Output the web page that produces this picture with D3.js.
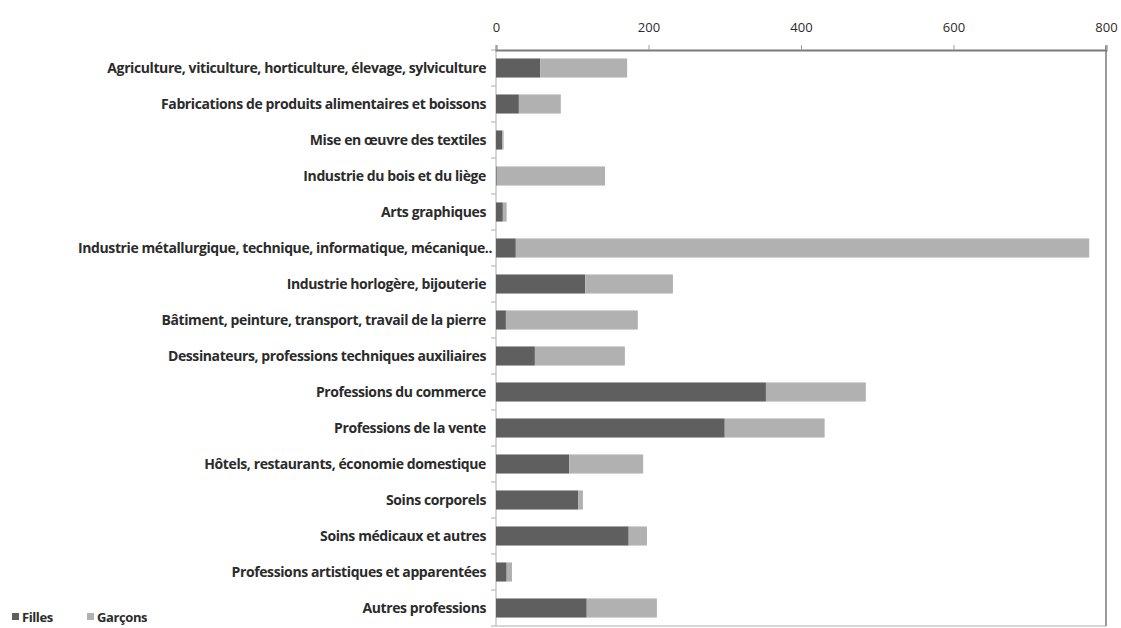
<!DOCTYPE html>
<html><head><meta charset="utf-8">
<script src="https://cdn.jsdelivr.net/npm/d3@7"></script>
<style>
body{margin:0;background:#fff;}
svg text{font-family:"Open Sans",sans-serif;fill:#2b2b2b;}
</style></head>
<body>
<svg id="chart" width="1121" height="628"></svg>
<script>
const categories = [
  "Agriculture, viticulture, horticulture, élevage, sylviculture",
  "Fabrications de produits alimentaires et boissons",
  "Mise en œuvre des textiles",
  "Industrie du bois et du liège",
  "Arts graphiques",
  "Industrie métallurgique, technique, informatique, mécanique..",
  "Industrie horlogère, bijouterie",
  "Bâtiment, peinture, transport, travail de la pierre",
  "Dessinateurs, professions techniques auxiliaires",
  "Professions du commerce",
  "Professions de la vente",
  "Hôtels, restaurants, économie domestique",
  "Soins corporels",
  "Soins médicaux et autres",
  "Professions artistiques et apparentées",
  "Autres professions"
];
const filles  = [58, 30, 8, 1, 9, 26, 117, 13, 51, 354, 300, 96, 108, 174, 14, 119];
const garcons = [114, 55, 2, 142, 5, 752, 115, 173, 118, 131, 131, 97, 6, 24, 7, 92];
const seriesNames = ["Filles", "Garçons"];
const xTicks = [0, 200, 400, 600, 800];
const colors = ["#5f5f5f", "#b1b1b1"];

const svg = d3.select("#chart");
const mL = 496, mR = 1106, mT = 50, mB = 626;

const x = d3.scaleLinear().domain([0, 800]).range([mL, mR]);
const y = d3.scaleBand().domain(categories).range([mT, mB]).paddingInner(0.47).paddingOuter(0.235);

const rows = categories.map((c, i) => ({cat: c, Filles: filles[i], "Garçons": garcons[i]}));
const stacked = d3.stack().keys(seriesNames)(rows);

// left axis line & ticks
svg.append("line").attr("x1", mL).attr("x2", mL).attr("y1", mT).attr("y2", mB)
  .attr("stroke", "#c8c8c8").attr("stroke-width", 1.5);
const step = (mB - mT) / categories.length;
d3.range(categories.length + 1).forEach(i => {
  svg.append("line").attr("x1", mL - 5).attr("x2", mL).attr("y1", mT + i * step).attr("y2", mT + i * step)
    .attr("stroke", "#b0b0b0").attr("stroke-width", 1);
});
// bottom border
svg.append("line").attr("x1", mL).attr("x2", mR).attr("y1", mB).attr("y2", mB)
  .attr("stroke", "#c8c8c8").attr("stroke-width", 1.5);
// right border
svg.append("line").attr("x1", mR).attr("x2", mR).attr("y1", mT - 4).attr("y2", mB)
  .attr("stroke", "#9a9a9a").attr("stroke-width", 2);

// bars
svg.append("g").selectAll("g").data(stacked).join("g")
  .attr("fill", (d, i) => colors[i])
  .selectAll("rect").data(d => d).join("rect")
  .attr("x", d => x(d[0]))
  .attr("width", d => x(d[1]) - x(d[0]))
  .attr("y", d => y(d.data.cat))
  .attr("height", y.bandwidth());

// top axis
const ax = svg.append("g").attr("transform", `translate(0,${mT})`)
  .call(d3.axisTop(x).tickValues(xTicks).tickSize(5).tickPadding(13));
ax.select(".domain").attr("stroke", "#7a7a7a").attr("stroke-width", 2);
ax.selectAll(".tick line").attr("stroke", "#a0a0a0");
ax.selectAll(".tick text").attr("font-size", 13).attr("fill", "#333")
  .style("font-family", "'Open Sans',sans-serif");

// category labels
svg.append("g").selectAll("text").data(categories).join("text")
  .attr("x", (d, i) => i === 5 ? 492 : 486)
  .attr("y", d => y(d) + y.bandwidth() / 2)
  .attr("dy", "0.35em")
  .attr("text-anchor", "end")
  .attr("font-size", 14)
  .attr("font-weight", 700)
  .attr("letter-spacing", "-0.4px")
  .text(d => d);

// legend
const leg = svg.append("g");
const legX = [12, 87];
seriesNames.forEach((s, i) => {
  leg.append("rect").attr("x", legX[i]).attr("y", 613).attr("width", 7).attr("height", 7).attr("fill", colors[i]);
  leg.append("text").attr("x", legX[i] + 10).attr("y", 617).attr("dy", "0.35em")
    .attr("font-size", 13).attr("font-weight", 700).attr("letter-spacing", "-0.4px").text(s);
});
</script>
</body></html>
